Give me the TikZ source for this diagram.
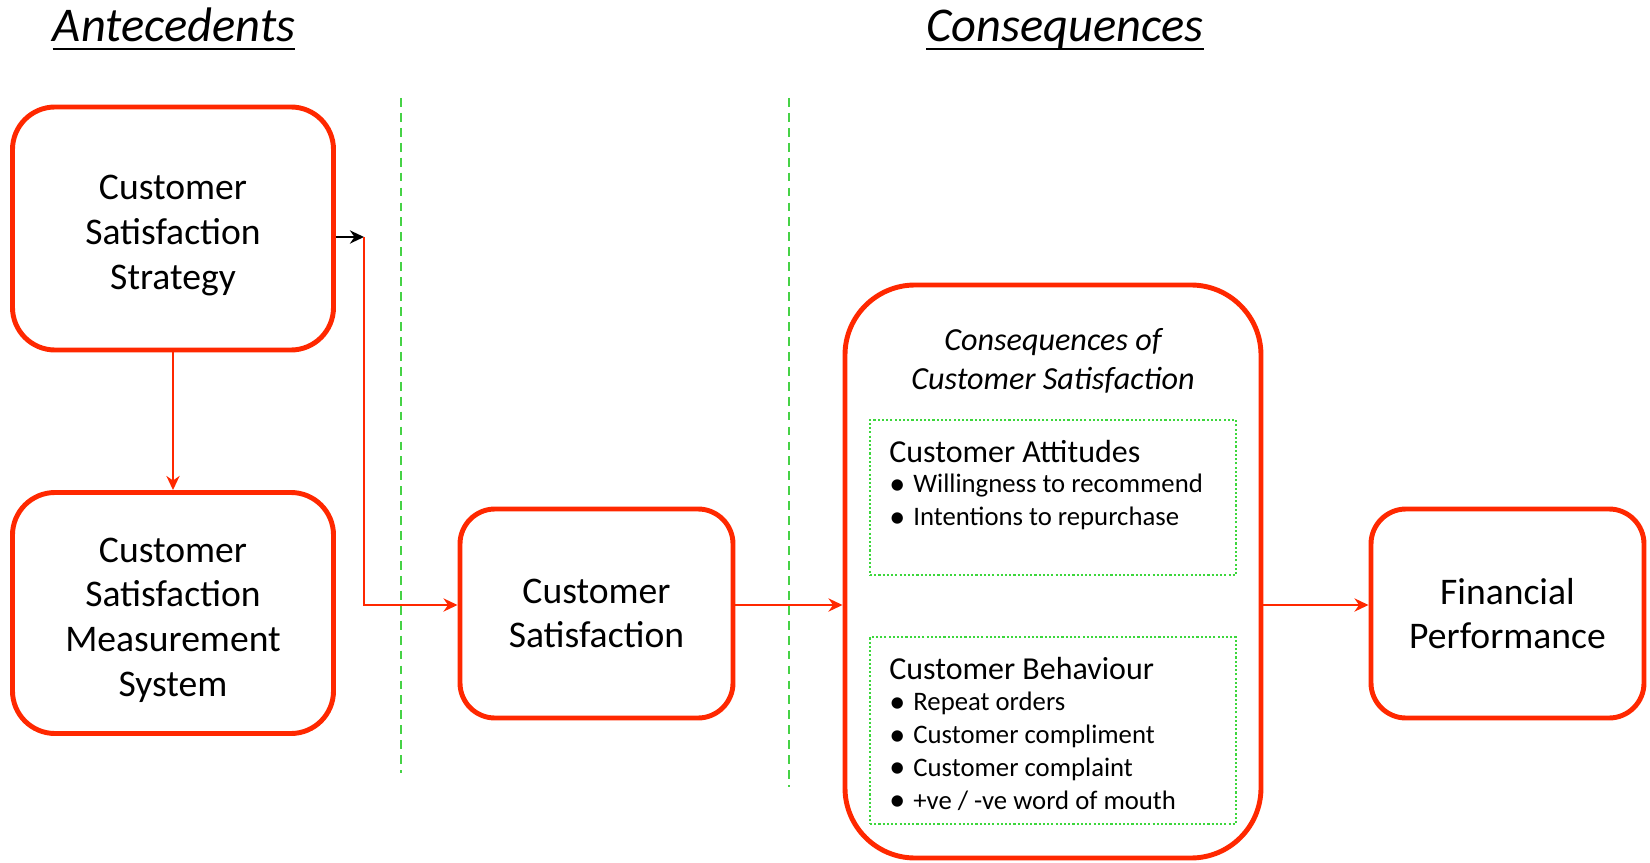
\documentclass[tikz,border=0pt]{standalone}
\usepackage{fontspec}
\setmainfont{Carlito}
\usetikzlibrary{arrows.meta}
\definecolor{boxred}{RGB}{255,40,0}
\definecolor{divgreen}{RGB}{70,210,70}
\definecolor{dotgreen}{RGB}{60,215,60}
\tikzset{>={Stealth[length=8pt,width=7.5pt]}}
\newcommand{\listdot}{\makebox[13.7pt][l]{\raisebox{-0.05em}{\scalebox{1.2}{\textbullet}}}}
\newcommand{\boxpad}{\rule{0pt}{22pt}}

\begin{document}
\begin{tikzpicture}[x=0.2mm,y=-0.2mm,
  redbox/.style={draw=boxred,line width=2.8pt,inner sep=0pt,align=center,
    font=\fontsize{21.4}{25.4}\selectfont},
  flow/.style={->,draw=boxred,line width=1.3pt},
  divider/.style={draw=divgreen,line width=1.4pt,dash pattern=on 5pt off 3.5pt},
  subbox/.style={draw=dotgreen,line width=1.5pt,dash pattern=on 1.2pt off 1.2pt,inner sep=0pt},
  heading/.style={font=\fontsize{27.6}{32}\selectfont\itshape,inner sep=0pt,anchor=base},
  subhead/.style={font=\fontsize{18.2}{22}\selectfont,inner sep=0pt,anchor=base west},
  listtext/.style={inner sep=0pt,align=left,anchor=north west,
    font=\fontsize{15.2}{18.7}\selectfont}]
  \useasboundingbox (0,0) rectangle (1650,863);
  % headings
  \node[heading] (ante) at (174,42) {Antecedents};
  \node[heading] (conshd) at (1065,42) {Consequences};
  \draw[line width=1.7pt] ([yshift=-1.4mm]ante.base west) -- ([yshift=-1.4mm]ante.base east);
  \draw[line width=1.7pt] ([yshift=-1.4mm]conshd.base west) -- ([yshift=-1.4mm]conshd.base east);
  \draw[divider] (401,98) -- (401,773);
  \draw[divider] (789,98) -- (789,787);
  % boxes
  \node[redbox,rounded corners=8.5mm,minimum width=64.2mm,minimum height=48.6mm] (strategy) at (173,228.5)
  {\boxpad Customer\\Satisfaction\\Strategy};
  \node[redbox,rounded corners=8.5mm,minimum width=64.2mm,minimum height=48.2mm] (measure) at (173,613)
  {\boxpad Customer\\Satisfaction\\Measurement\\System};
  \node[redbox,rounded corners=7mm,minimum width=54.6mm,minimum height=41.8mm] (custsat) at (596.5,613.5)
  {Customer\\Satisfaction};
  \node[redbox,rounded corners=14mm,minimum width=83.2mm,minimum height=114.6mm] (conseq) at (1053,571.5) {};
  \node[redbox,rounded corners=7mm,minimum width=54.6mm,minimum height=41.8mm] (finance) at (1507.5,613.5)
  {Financial\\Performance};
  \node[font=\fontsize{18.3}{22.2}\selectfont\itshape,align=center,inner sep=0pt] (conshead) at (1053,361)
  {Consequences of\\Customer Satisfaction};
  \node[subbox,minimum width=73.2mm,minimum height=31mm] (attbox) at (1053,497.5) {};
  \node[subbox,minimum width=73.2mm,minimum height=37.4mm] (behbox) at (1053,730.5) {};
  \node[subhead] (atthead) at (889,462) {Customer Attitudes};
  \node[listtext] (attlist) at (889,474)
  {\listdot Willingness to recommend\\\listdot Intentions to repurchase};
  \node[subhead] (behhead) at (889,679) {Customer Behaviour};
  \node[listtext] (behlist) at (889,692)
  {\listdot Repeat orders\\\listdot Customer compliment\\\listdot Customer complaint\\\listdot +ve / -ve word of mouth};
  % links
  \coordinate (elbow) at (364,237);
  \coordinate (mainline) at (0,605);
  \draw[flow] (strategy) -- (measure);
  \draw[->,line width=1.3pt] (strategy.east |- elbow) -- (elbow);
  \draw[flow] (elbow) |- (custsat.west |- mainline);
  \draw[flow] (custsat.east |- mainline) -- (conseq.west |- mainline);
  \draw[flow] (conseq.east |- mainline) -- (finance.west |- mainline);
\end{tikzpicture}
\end{document}
